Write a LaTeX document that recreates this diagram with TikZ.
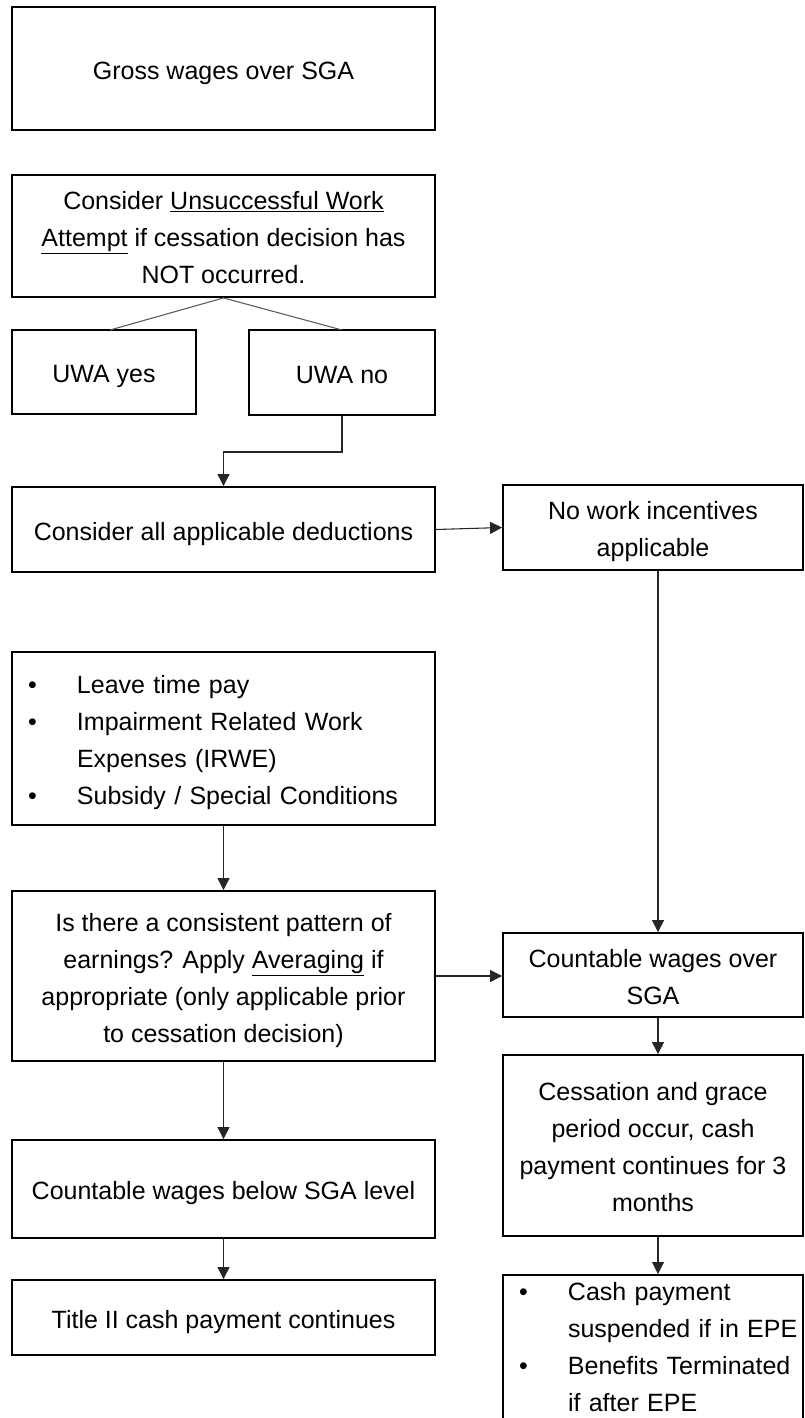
\documentclass[tikz,border=0pt]{standalone}
\usepackage{fontspec}
\setmainfont{Liberation Sans}
\usetikzlibrary{arrows.meta}
\newcommand\fsz{\fontsize{18.75pt}{27.75pt}\selectfont}
\newcommand\bulitem{\makebox[44.75pt][l]{\hspace*{8pt}\textbullet}}
\newcommand\bulcont{\hspace*{44.75pt}}
\begin{document}
\begin{tikzpicture}[x=0.75pt,y=-0.75pt,
  box/.style={draw=black,line width=1.4pt,align=center,font=\fsz,inner sep=0pt},
  lines/.style={text depth=0pt,text height={(#1-1)*27.75pt+15.75pt}},
  toplines/.style={text height=15.75pt,text depth={(#1-1)*27.75pt}},
  arr/.style={draw=black!85,line width=0.8pt,-{Triangle[length=9pt,width=9pt]}},
  ln/.style={draw=black!65,line width=0.8pt}]
\useasboundingbox (0,0) rectangle (804,1418);

\node[box,lines=1,minimum width=317.25pt,minimum height=92.25pt] (gross) at (223.5,68.5) {Gross wages over SGA};
\node[box,lines=3,minimum width=317.25pt,minimum height=91.5pt] (uwa) at (223.5,236)
  {Consider \underline{Unsuccessful Work}\\ \underline{Attempt} if cessation decision has\\ NOT occurred.};
\node[box,lines=1,minimum width=138pt,minimum height=63pt] (yes) at (104,372) {UWA yes};
\node[box,lines=1,minimum width=139.5pt,minimum height=63.75pt] (no) at (342,372.5) {UWA no};
\node[box,lines=1,minimum width=317.25pt,minimum height=63.75pt] (ded) at (223.5,529.5) {Consider all applicable deductions};
\node[box,lines=2,minimum width=225pt,minimum height=63.75pt] (nowork) at (653,527.5) {No work incentives\\ applicable};
\node[box,toplines=4,align=left,text width=309.25pt,inner xsep=4pt,minimum height=129.75pt] (bul) at (223.5,738.5)
  {\bulitem Leave time pay\\
   \bulitem Impairment Related Work\\
   \bulcont Expenses (IRWE)\\
   \bulitem Subsidy / Special Conditions};
\node[box,lines=4,minimum width=317.25pt,minimum height=127.5pt] (avg) at (223.5,976)
  {Is there a consistent pattern of\\ earnings? Apply \underline{Averaging} if\\ appropriate (only applicable prior\\ to cessation decision)};
\node[box,lines=2,minimum width=225pt,minimum height=63pt] (over) at (653,975) {Countable wages over\\ SGA};
\node[box,lines=4,minimum width=225pt,minimum height=135.75pt] (cess) at (653,1145.5)
  {Cessation and grace\\ period occur, cash\\ payment continues for 3\\ months};
\node[box,lines=1,minimum width=317.25pt,minimum height=73.5pt] (below) at (223.5,1189) {Countable wages below SGA level};
\node[box,lines=1,minimum width=317.25pt,minimum height=56.25pt] (title) at (223.5,1317.5) {Title II cash payment continues};
\node[box,anchor=north,align=left,text width=217pt,inner xsep=4pt,inner ysep=3.75pt,
  text height=15.75pt,text depth=123.25pt] (fin) at (653,1274)
  {\bulitem Cash payment\\
   \bulcont suspended if in EPE\\
   \bulitem Benefits Terminated\\
   \bulcont if after EPE};

\coordinate (yestop) at (110,330);
\coordinate (notop) at (342,330);
\draw[ln] (uwa.south) -- (yestop);
\draw[ln] (uwa.south) -- (notop);
\draw[arr] (no.south) |- (342,452) -| (ded.north);
\draw[arr] (ded.east) -- (nowork.west);
\draw[arr] ([xshift=3.75pt]nowork.south) -- ([xshift=3.75pt]over.north);
\draw[arr] ([xshift=3.75pt]over.south) -- ([xshift=3.75pt]cess.north);
\draw[arr] ([xshift=3.75pt]cess.south) -- ([xshift=3.75pt]fin.north);
\draw[arr] (bul.south) -- (avg.north);
\draw[arr] (avg.east) -- (avg.east -| over.west);
\draw[arr] (avg.south) -- (below.north);
\draw[arr] (below.south) -- (title.north);
\end{tikzpicture}
\end{document}
